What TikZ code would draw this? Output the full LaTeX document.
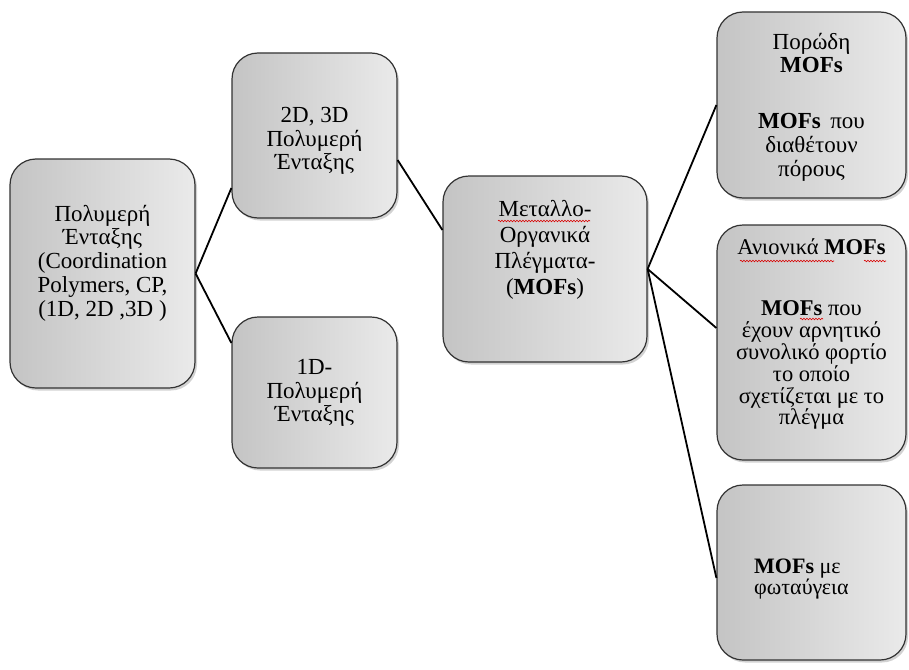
\documentclass[tikz,border=0pt]{standalone}
\usepackage{fontspec}
\setmainfont{Liberation Serif}
\usetikzlibrary{shadows,decorations.pathmorphing}
\definecolor{boxL}{RGB}{196,196,196}
\definecolor{boxR}{RGB}{234,234,234}
\begin{document}
\begin{tikzpicture}[x=1pt,y=-1pt,
  box/.style={draw=black!80, line width=1.2pt, rounded corners=26pt,
    left color=boxL, right color=boxR,
    drop shadow={shadow xshift=2pt,shadow yshift=-2.5pt,opacity=0.35},
    inner sep=0pt},
  txt/.style={align=center, inner sep=0pt, text=black, font=\fontsize{23}{23.7}\selectfont},
  txtsmall/.style={align=center, inner sep=0pt, text=black, font=\fontsize{22.5}{21.8}\selectfont},
  link/.style={draw=black, line width=1.8pt},
  wavy/.style={draw=red!85!black, line width=0.6pt, decorate,
    decoration={snake, amplitude=0.8pt, segment length=3pt}}]
\useasboundingbox[fill=white] (0,0) rectangle (909,669);

% boxes
\node[box, minimum width=185pt, minimum height=229pt] (A) at (102.5,273.5) {};
\node[box, minimum width=165pt, minimum height=165pt] (B) at (314.5,135.5) {};
\node[box, minimum width=165pt, minimum height=151pt] (C) at (314.5,392.5) {};
\node[box, minimum width=204pt, minimum height=186pt] (D) at (545,269) {};
\node[box, minimum width=189pt, minimum height=186pt] (E) at (811.5,105) {};
\node[box, minimum width=189pt, minimum height=235pt] (F) at (811.5,342.5) {};
\node[box, minimum width=189pt, minimum height=175pt] (G) at (811.5,572.5) {};

% texts
\node[txt] (tA) at (102.5,263) {Πολυμερή\\Ένταξης\\(Coordination\\Polymers, CP,\\(1D, 2D ,3D )};
\node[txt] (tB) at (314.5,141) {2D, 3D\\Πολυμερή\\Ένταξης};
\node[txt] (tC) at (314.5,393) {1D-\\Πολυμερή\\Ένταξης};
\node[txt, font=\fontsize{23}{26}\selectfont] (tD) at (545,250) {Μεταλλο-\\Οργανικά\\Πλέγματα-\\(\textbf{MOFs})};
\node[txt] (tE) at (811.5,107) {Πορώδη\\\textbf{MOFs}\\[32pt]\textbf{MOFs}\, που\\διαθέτουν\\πόρους};
\node[txtsmall] (tF) at (811.5,334) {Ανιονικά \textbf{MOFs}\\[40pt]\textbf{MOFs} που\\έχουν αρνητικό\\συνολικό φορτίο\\το οποίο\\σχετίζεται με το\\πλέγμα};
\node[txt, align=left, anchor=west, font=\fontsize{22}{21.5}\selectfont] (tG) at (754,579) {\textbf{MOFs} με\\φωταύγεια};

% connectors
\draw[link] (A.east) -- ([yshift=-52.5pt]B.west);
\draw[link] (A.east) -- ([yshift=49.5pt]C.west);
\draw[link] ([yshift=-24.5pt]B.east) -- ([yshift=39pt]D.west);
\draw[link] (D.east) -- (E.west);
\draw[link] (D.east) -- ([yshift=14.5pt]F.west);
\draw[link] (D.east) -- ([yshift=-5.5pt]G.west);

% spell-check underlines
\draw[wavy] (498,221) -- (590,221);
\draw[wavy] (740,261) -- (834,261);
\draw[wavy] (864,261) -- (886,261);
\draw[wavy] (800,319) -- (823,319);
\end{tikzpicture}
\end{document}
